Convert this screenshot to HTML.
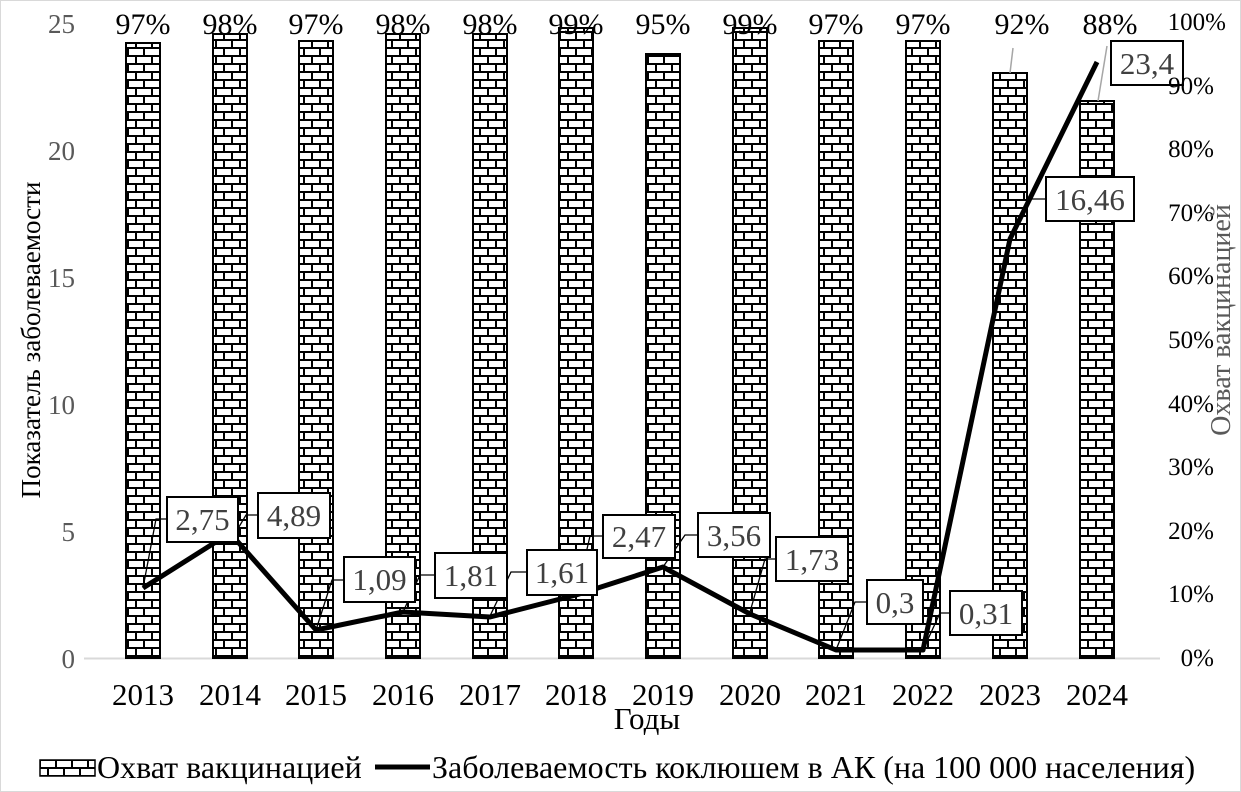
<!DOCTYPE html>
<html><head><meta charset="utf-8"><style>
html,body{margin:0;padding:0;background:#fff}
svg{display:block}
text{font-family:"Liberation Serif",serif}
</style></head><body>
<svg width="1241" height="792" viewBox="0 0 1241 792" xmlns="http://www.w3.org/2000/svg">
<defs>
<pattern id="brick" patternUnits="userSpaceOnUse" x="0" y="0" width="16" height="16">
<rect width="16" height="16" fill="#000"/>
<rect x="1" y="1" width="14" height="6" fill="#fff"/>
<rect x="-7" y="9" width="14" height="6" fill="#fff"/>
<rect x="9" y="9" width="14" height="6" fill="#fff"/>
</pattern>
</defs>
<rect x="0.5" y="0.5" width="1240" height="791" fill="#fff" stroke="#d9d9d9"/>
<line x1="84" y1="658.5" x2="1160" y2="658.5" stroke="#d9d9d9" stroke-width="2"/>
<g fill="url(#brick)" stroke="#000" stroke-width="2">
<rect x="126" y="43" width="34" height="615"/>
<rect x="213" y="34" width="34" height="624"/>
<rect x="299" y="41" width="34" height="617"/>
<rect x="386" y="34" width="34" height="624"/>
<rect x="473" y="34" width="34" height="624"/>
<rect x="559" y="28" width="34" height="630"/>
<rect x="646" y="54" width="34" height="604"/>
<rect x="733" y="28" width="34" height="630"/>
<rect x="819" y="41" width="34" height="617"/>
<rect x="906" y="41" width="34" height="617"/>
<rect x="993" y="73" width="34" height="585"/>
<rect x="1080" y="101" width="34" height="557"/>
</g>
<g font-size="30" text-anchor="middle" fill="#000">
<text x="143" y="34">97%</text><text x="230" y="34">98%</text><text x="316" y="34">97%</text>
<text x="403" y="34">98%</text><text x="490" y="34">98%</text><text x="576" y="34">99%</text>
<text x="663" y="34">95%</text><text x="750" y="34">99%</text><text x="836" y="34">97%</text>
<text x="923" y="34">97%</text><text x="1022" y="34">92%</text><text x="1110" y="34">88%</text>
</g>
<line x1="1013" y1="48" x2="1010" y2="73" stroke="#a6a6a6" stroke-width="1.5"/>
<line x1="1107" y1="46" x2="1098" y2="101" stroke="#a6a6a6" stroke-width="1.5"/>
<g stroke="#000" stroke-width="1.3" fill="none">
<polyline points="143,588 156,519 167,519"/>
<polyline points="230,542 246,515 258,515"/>
<polyline points="316,630 332,580 344,580"/>
<polyline points="403,612 420,575 435,575"/>
<polyline points="490,616 511,572 527,572"/>
<polyline points="576,597 590,536 603,536"/>
<polyline points="663,567 685,535 698,535"/>
<polyline points="750,612 765,559 776,559"/>
<polyline points="836,650 855,602 867,602"/>
<polyline points="923,650 940,613 950,613"/>
<polyline points="1010,240 1030,199 1046,199"/>
</g>
<polyline points="143,588 230,533 316,630 403,612 490,617 576,595 663,567 750,614 836,650 923,650 1010,239 1097,62" fill="none" stroke="#000" stroke-width="5" stroke-linejoin="round"/>
<g fill="#fff" stroke="#000" stroke-width="2">
<rect x="167" y="497" width="71" height="45"/>
<rect x="258" y="493" width="72" height="45"/>
<rect x="344" y="557" width="71" height="45"/>
<rect x="435" y="553" width="72" height="45"/>
<rect x="527" y="550" width="70" height="45"/>
<rect x="603" y="515" width="72" height="43"/>
<rect x="698" y="513" width="72" height="44"/>
<rect x="776" y="537" width="72" height="44"/>
<rect x="867" y="580" width="56" height="44"/>
<rect x="950" y="591" width="72" height="44"/>
<rect x="1046" y="177" width="88" height="44"/>
<rect x="1111" y="41" width="72" height="44"/>
</g>
<g font-size="31" text-anchor="middle" fill="#404040">
<text x="202.5" y="530">2,75</text><text x="294" y="526">4,89</text>
<text x="379.5" y="590">1,09</text><text x="471" y="586">1,81</text>
<text x="562" y="583">1,61</text><text x="639" y="547">2,47</text>
<text x="734" y="546">3,56</text><text x="812" y="570">1,73</text>
<text x="895" y="613">0,3</text><text x="986" y="624">0,31</text>
<text x="1090" y="210">16,46</text><text x="1147" y="74">23,4</text>
</g>
<g font-size="27" text-anchor="end" fill="#595959">
<text x="75" y="33">25</text><text x="75" y="160">20</text><text x="75" y="287">15</text>
<text x="75" y="414">10</text><text x="75" y="541">5</text><text x="75" y="668">0</text>
</g>
<g font-size="25" text-anchor="end" fill="#000">
<text x="1226" y="30">100%</text><text x="1214" y="94">90%</text><text x="1214" y="157">80%</text>
<text x="1214" y="221">70%</text><text x="1214" y="284">60%</text><text x="1214" y="348">50%</text>
<text x="1214" y="412">40%</text><text x="1214" y="475">30%</text><text x="1214" y="539">20%</text>
<text x="1214" y="602">10%</text><text x="1214" y="666">0%</text>
</g>
<g font-size="31" text-anchor="middle" fill="#000">
<text x="143" y="705">2013</text><text x="230" y="705">2014</text><text x="316" y="705">2015</text>
<text x="403" y="705">2016</text><text x="490" y="705">2017</text><text x="576" y="705">2018</text>
<text x="663" y="705">2019</text><text x="750" y="705">2020</text><text x="836" y="705">2021</text>
<text x="923" y="705">2022</text><text x="1010" y="705">2023</text><text x="1097" y="705">2024</text>
<text x="647" y="729">Годы</text>
</g>
<text transform="translate(40,340) rotate(-90)" font-size="27" text-anchor="middle" fill="#000">Показатель заболеваемости</text>
<text transform="translate(1230,320) rotate(-90)" font-size="28" text-anchor="middle" fill="#595959">Охват вакцинацией</text>
<rect x="40" y="760" width="55" height="16" fill="url(#brick)" stroke="#000" stroke-width="1.5"/>
<text x="97" y="778" font-size="32" fill="#000">Охват вакцинацией</text>
<line x1="375" y1="767" x2="430" y2="767" stroke="#000" stroke-width="5"/>
<text x="432" y="778" font-size="32" fill="#000">Заболеваемость коклюшем в АК (на 100 000 населения)</text>
</svg>
</body></html>
